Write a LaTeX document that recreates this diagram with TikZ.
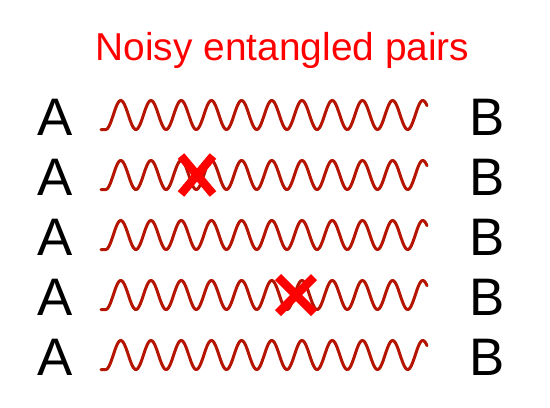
\documentclass[tikz,border=0pt]{standalone}
\usepackage{fontspec}
\setmainfont{Liberation Sans}
\definecolor{wavered}{RGB}{180,20,0}
\begin{document}
\begin{tikzpicture}[x=1bp,y=-1bp,
  wave/.style={draw=wavered, line width=3bp, line join=round, line cap=round},
  crossline/.style={draw=red, line width=8.5bp},
  letter/.style={anchor=base, inner sep=0pt, font=\fontsize{53}{60}\selectfont}]
\useasboundingbox (0,0) rectangle (550,407);
\node[anchor=base, inner sep=0pt, text=red, font=\fontsize{39}{44}\selectfont] (title) at (282.5,60) {Noisy entangled pairs};
\foreach \i in {0,...,4} {
  \pgfmathsetmacro{\c}{115+60*\i}
  \pgfmathsetmacro{\b}{135.7+60*\i}
  \node[letter] (A\i) at (55.5,\b) {A};
  \node[letter] (B\i) at (487,\b) {B};
  \draw[wave] (101,\c+14.5) -- (105.7,\c+14.5) -- plot[domain=105.7:427, samples=400] (\x, {\c+14.5*cos(11.9205*(\x-105.7))});
}
% crosses
\draw[crossline] (181,156) -- (213,194);
\draw[crossline] (213,156) -- (181,194);
\draw[crossline] (278,277) -- (314,313);
\draw[crossline] (314,277) -- (278,313);
\end{tikzpicture}
\end{document}
